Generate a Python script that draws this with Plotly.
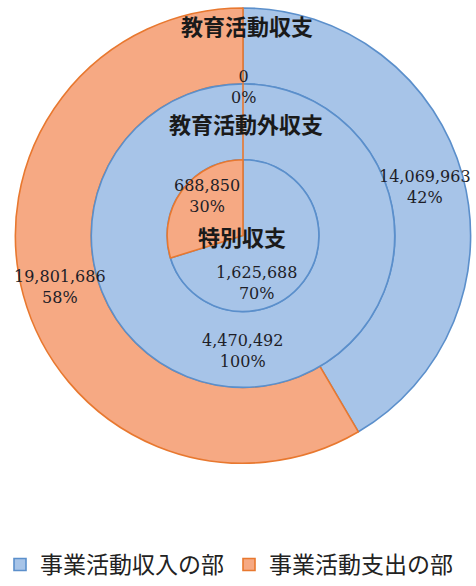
import plotly.graph_objects as go

# ---- data ----
labels = ["事業活動収入の部", "事業活動支出の部"]
ring_names = ["教育活動収支", "教育活動外収支", "特別収支"]
outer_vals = [14069963, 19801686]   # 教育活動収支
middle_vals = [4470492, 0]          # 教育活動外収支
inner_vals = [1625688, 688850]      # 特別収支

# ---- style / geometry ----
W, H = 476, 586
cx, cy = 243, 236
r_out, r_mid, r_in = 228, 152, 76
fill = ["#A7C4E8", "#F6A983"]
edge = ["#5B8FCB", "#E8782F"]
num_font = dict(family="DejaVu Serif", size=16, color="#1e1e28")
cjk = "Noto Sans CJK JP"
# data-label anchor points (pixels from top-left), per ring, per slice
label_px = [[(425, 187), (60, 287)],
            [(243, 352), (244, 87)],
            [(256, 283), (207, 196)]]
title_px = [(247, 25), (246, 123), (242, 236)]


def dom(r):
    return dict(x=[(cx - r) / W, (cx + r) / W],
                y=[(H - cy - r) / H, (H - cy + r) / H])


common = dict(labels=labels, sort=False, direction="clockwise", rotation=0,
              marker=dict(colors=fill, line=dict(color=edge, width=1.6)),
              textinfo="none", hoverinfo="label+value+percent")

fig = go.Figure()
rings = [outer_vals, middle_vals, inner_vals]
holes = [r_mid / r_out, r_in / r_mid, 0]
radii = [r_out, r_mid, r_in]
for vals, hole, r, name in zip(rings, holes, radii, ring_names):
    fig.add_trace(go.Pie(values=vals, hole=hole, domain=dom(r), name=name, **common))

# data labels: value and share, from the data
for vals, pts in zip(rings, label_px):
    tot = sum(vals)
    for v, (px, py) in zip(vals, pts):
        fig.add_annotation(x=px / W, y=1 - py / H, xref="paper", yref="paper",
                           xanchor="center", yanchor="middle",
                           text=f"{v:,}<br>{v / tot:.0%}", showarrow=False,
                           font=num_font, align="center")

# ring titles
for name, (tx, ty) in zip(ring_names, title_px):
    fig.add_annotation(x=tx / W, y=1 - ty / H, xref="paper", yref="paper",
                       xanchor="center", yanchor="middle",
                       text=f"<b>{name}</b>", showarrow=False,
                       font=dict(family=cjk, size=22, color="#1a1a1a"))

fig.update_layout(
    width=W, height=H,
    margin=dict(l=0, r=0, t=0, b=0),
    paper_bgcolor="white", plot_bgcolor="white",
    legend=dict(orientation="h", x=0, xanchor="left", y=1 - 565 / H, yanchor="middle",
                font=dict(family=cjk, size=23, color="#222"), traceorder="normal",
                itemwidth=30),
    showlegend=True,
)

fig.write_html("out.html", config={"displayModeBar": False},
               post_script="document.body.style.margin='0';")
